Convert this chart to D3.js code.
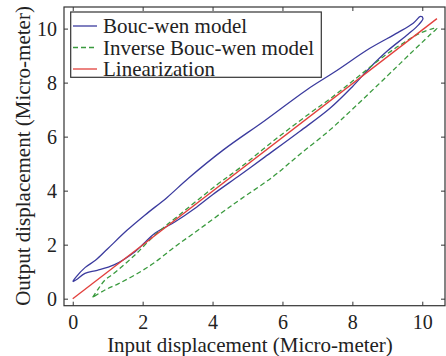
<!DOCTYPE html>
<html>
<head>
<meta charset="utf-8">
<script src="https://cdn.jsdelivr.net/npm/d3@7"></script>
<style>
  body { margin: 0; background: #fff; }
  text { font-family: "Liberation Serif", "Times New Roman", serif; fill: #222; }
</style>
</head>
<body>
<script>
//Bouc-wen model loop (upper branch then back along the lower one)
var boucX = [0, 0.08, 0.35, 0.65, 1.0, 1.56, 2.07, 2.7, 3.31, 4.31, 5.5, 6.69, 7.5, 8.5, 9.3, 9.74, 9.95, 10.02,
             9.9, 9.6, 8.98, 8.5, 8.0, 7.36, 6.5, 5.5, 4.79, 4.0, 3.5, 2.93, 2.35, 2.04, 1.78, 1.18, 0.7, 0.35, 0.1, 0];
var boucY = [0.63, 0.78, 1.15, 1.42, 1.85, 2.54, 3.1, 3.75, 4.46, 5.51, 6.6, 7.73, 8.4, 9.27, 9.85, 10.2, 10.45, 10.38,
             10.15, 9.8, 9.15, 8.55, 7.85, 7.05, 6.2, 5.25, 4.58, 3.85, 3.35, 2.85, 2.42, 2.05, 1.74, 1.25, 1.05, 0.94, 0.7, 0.63];

//Inverse Bouc-wen model loop
var invX = [0.57, 0.75, 0.92, 1.18, 1.78, 2.35, 3.0, 4.12, 4.79, 5.8, 6.79, 7.36, 8.0, 8.98, 9.5, 9.93, 10.3, 10.42,
            10.22, 9.6, 9.0, 8.03, 7.36, 6.5, 5.73, 4.79, 4.3, 3.6, 2.93, 2.3, 1.78, 1.3, 0.92, 0.57];
var invY = [0.05, 0.4, 0.69, 0.94, 1.62, 2.36, 3.05, 4.21, 4.85, 5.9, 6.87, 7.4, 8.05, 9.05, 9.5, 9.83, 10.0, 10.02,
            9.77, 9.0, 8.25, 7.05, 6.25, 5.35, 4.52, 3.67, 3.22, 2.55, 1.93, 1.3, 0.88, 0.55, 0.32, 0.05];

//Linearization
var linX = [0, 10.42];
var linY = [0, 10.37];

var xTicks = [0, 2, 4, 6, 8, 10];
var yTicks = [0, 2, 4, 6, 8, 10];

var legendNames = ["Bouc-wen model", "Inverse Bouc-wen model", "Linearization"];
var colors = ["#3b3b9e", "#3a9a3e", "#e2403c"];
var dashes = [null, "5,3", null];

//Define plot box
var boxLeft = 64, boxRight = 445, boxTop = 7, boxBottom = 305.7;

var svg = d3.select("body")
    .append("svg")
    .attr("width", 446)
    .attr("height", 356);

var x = d3.scaleLinear().domain([-0.25, 10.65]).range([boxLeft, boxRight]);
var y = d3.scaleLinear().domain([-0.26, 10.8]).range([boxBottom, boxTop]);

function zip(xs, ys) {
    return xs.map(function(v, i) { return [v, ys[i]]; });
}

var line = d3.line()
    .x(function(d) { return x(d[0]); })
    .y(function(d) { return y(d[1]); })
    .curve(d3.curveCatmullRom.alpha(0.5));

var series = [zip(boucX, boucY), zip(invX, invY), zip(linX, linY)];

//Draw curves
svg.append("g").selectAll("path")
    .data(series)
    .enter().append("path")
    .attr("d", line)
    .attr("fill", "none")
    .attr("stroke", function(d, i) { return colors[i]; })
    .attr("stroke-width", 1.3)
    .attr("stroke-dasharray", function(d, i) { return dashes[i]; });

//Axes (ticks inward on all four sides)
var axisColor = "#333";
function styleAxis(g) {
    g.select(".domain").remove();
    g.selectAll(".tick line").attr("stroke", axisColor);
    g.selectAll(".tick text").style("font-size", "20px").attr("fill", "#222");
}

svg.append("g")
    .attr("transform", "translate(0," + boxBottom + ")")
    .call(d3.axisBottom(x).tickValues(xTicks).tickSizeInner(-4).tickPadding(9).tickFormat(d3.format("d")))
    .call(styleAxis);

svg.append("g")
    .attr("transform", "translate(0," + boxTop + ")")
    .call(d3.axisTop(x).tickValues(xTicks).tickSizeInner(-4).tickFormat(""))
    .call(styleAxis);

svg.append("g")
    .attr("transform", "translate(" + boxLeft + ",0)")
    .call(d3.axisLeft(y).tickValues(yTicks).tickSizeInner(-4).tickPadding(7).tickFormat(d3.format("d")))
    .call(styleAxis);

svg.append("g")
    .attr("transform", "translate(" + boxRight + ",0)")
    .call(d3.axisRight(y).tickValues(yTicks).tickSizeInner(-4).tickFormat(""))
    .call(styleAxis);

svg.append("rect")
    .attr("x", boxLeft).attr("y", boxTop)
    .attr("width", boxRight - boxLeft).attr("height", boxBottom - boxTop)
    .attr("fill", "none")
    .attr("stroke", axisColor)
    .attr("stroke-width", 1.2);

//Axis labels
svg.append("text")
    .attr("x", 250).attr("y", 352)
    .attr("text-anchor", "middle")
    .style("font-size", "21px")
    .text("Input displacement (Micro-meter)");

svg.append("text")
    .attr("transform", "translate(30,156) rotate(-90)")
    .attr("text-anchor", "middle")
    .style("font-size", "21px")
    .text("Output displacement (Micro-meter)");

//Legend
var legend = svg.append("g");
legend.append("rect")
    .attr("x", 70.7).attr("y", 12)
    .attr("width", 250.6).attr("height", 65.3)
    .attr("fill", "#fff")
    .attr("stroke", axisColor)
    .attr("stroke-width", 1.2);

var rows = legend.selectAll("g.row")
    .data(legendNames)
    .enter().append("g")
    .attr("class", "row")
    .attr("transform", function(d, i) { return "translate(0," + (26 + i * 21.5) + ")"; });

rows.append("line")
    .attr("x1", 73).attr("x2", 97)
    .attr("stroke", function(d, i) { return colors[i]; })
    .attr("stroke-width", 1.3)
    .attr("stroke-dasharray", function(d, i) { return dashes[i]; });

rows.append("text")
    .attr("x", 103).attr("y", 7)
    .style("font-size", "21px")
    .text(function(d) { return d; });
</script>
</body>
</html>
